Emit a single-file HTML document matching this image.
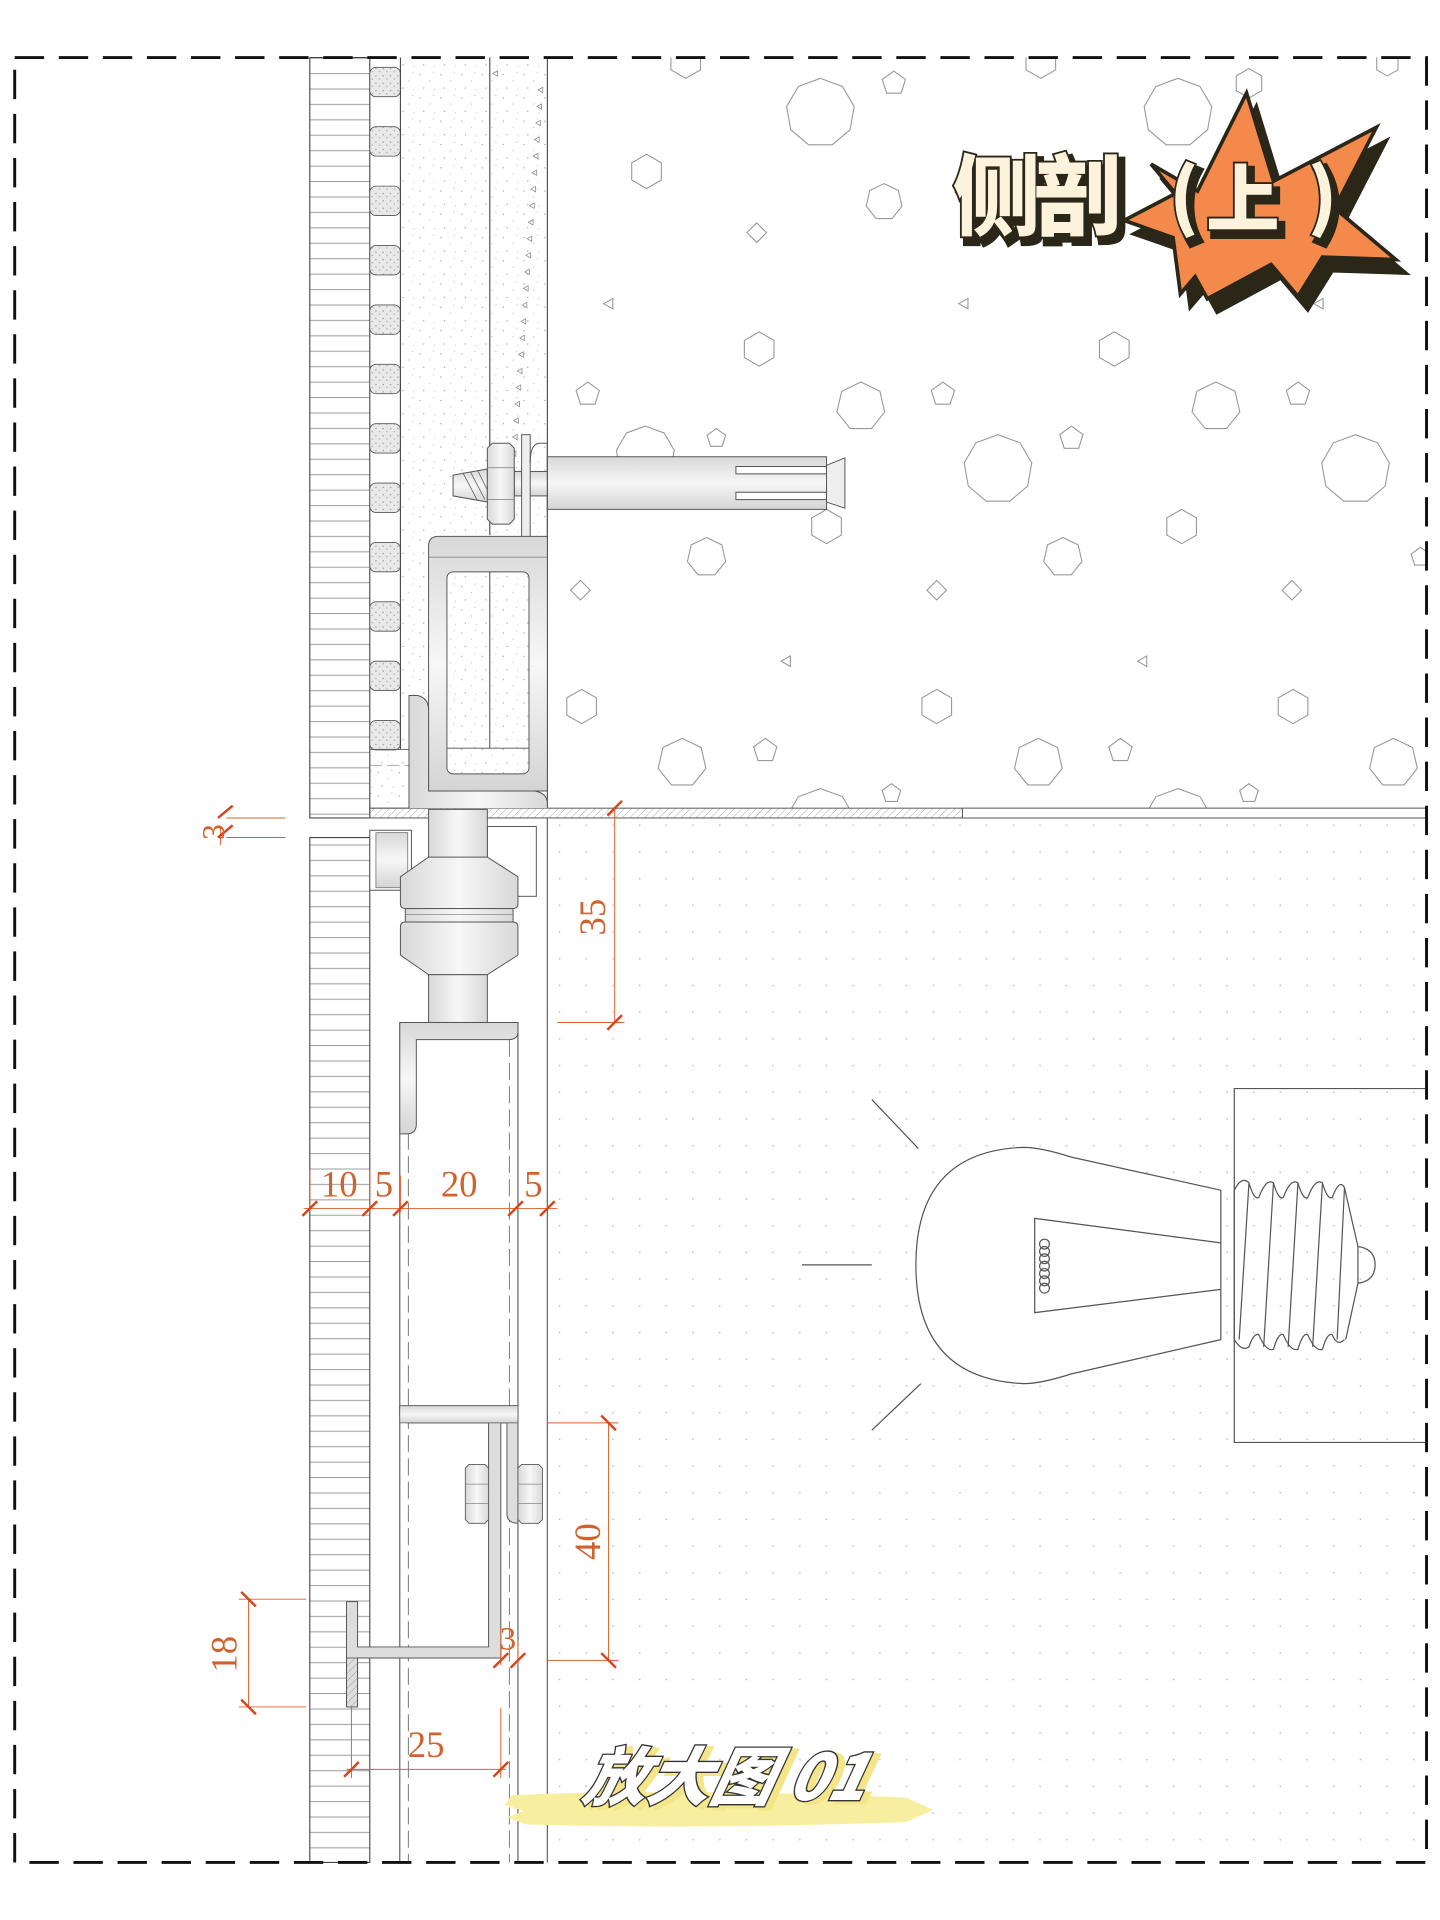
<!DOCTYPE html>
<html><head><meta charset="utf-8"><style>
html,body{margin:0;padding:0;background:#fff;}
svg{display:block;}
.t{font-family:"Liberation Serif",serif;fill:#d0622e;}
</style></head><body>
<svg id="s" width="1440" height="1920" viewBox="0 0 1176 1568" preserveAspectRatio="none" xmlns="http://www.w3.org/2000/svg">
<defs>
<pattern id="hl" width="10" height="12.6" patternUnits="userSpaceOnUse" y="47"><line x1="0" y1="0.5" x2="10" y2="0.5" stroke="#999" stroke-width="0.8"/></pattern>
<pattern id="dg" width="6" height="8" patternUnits="userSpaceOnUse" patternTransform="skewX(-45)"><line x1="0" y1="0" x2="0" y2="8" stroke="#777" stroke-width="0.7"/></pattern>
<pattern id="dots" width="21.8" height="21.8" patternUnits="userSpaceOnUse" x="455" y="672"><circle cx="2" cy="2" r="0.7" fill="#bbb"/></pattern>
<pattern id="spk" width="17" height="19" patternUnits="userSpaceOnUse"><circle cx="3" cy="4" r="0.6" fill="#aaa"/><circle cx="11" cy="9" r="0.5" fill="#bbb"/><circle cx="6" cy="15" r="0.6" fill="#aaa"/><circle cx="14" cy="2" r="0.5" fill="#bbb"/><circle cx="15" cy="16" r="0.4" fill="#aaa"/></pattern>
<pattern id="spk2" width="6" height="6" patternUnits="userSpaceOnUse"><rect width="6" height="6" fill="#e9e9e9"/><circle cx="1" cy="2" r="0.6" fill="#999"/><circle cx="4" cy="4.5" r="0.6" fill="#aaa"/></pattern>
<linearGradient id="mv" x1="0" y1="0" x2="1" y2="0"><stop offset="0" stop-color="#d8d8d8"/><stop offset="0.5" stop-color="#f7f7f7"/><stop offset="1" stop-color="#d8d8d8"/></linearGradient>
<linearGradient id="mh" x1="0" y1="0" x2="0" y2="1"><stop offset="0" stop-color="#d8d8d8"/><stop offset="0.5" stop-color="#f7f7f7"/><stop offset="1" stop-color="#d4d4d4"/></linearGradient>
<clipPath id="cc"><rect x="447" y="47" width="718" height="613"/></clipPath>
</defs>

<g id="polys" clip-path="url(#cc)" fill="none" stroke="#999" stroke-width="0.9"></g>

<rect x="253" y="47" width="49" height="621" fill="url(#hl)" stroke="#444" stroke-width="0.9"/>
<rect x="253" y="684" width="49" height="837" fill="url(#hl)" stroke="#444" stroke-width="0.9"/>
<g id="wavy"></g>
<line x1="327" y1="47" x2="327" y2="612" stroke="#444" stroke-width="0.9"/>
<rect x="327" y="47" width="73" height="565" fill="url(#spk)"/>
<rect x="400" y="47" width="47" height="390" fill="url(#spk)"/>
<line x1="400" y1="47" x2="400" y2="437" stroke="#444" stroke-width="0.9"/>
<line x1="447" y1="47" x2="447" y2="660" stroke="#444" stroke-width="0.9"/>
<g id="tris" fill="none" stroke="#888" stroke-width="0.6"></g>
<rect x="302" y="612" width="50" height="48" fill="url(#spk)" stroke="#555" stroke-width="0.7"/>
<line x1="302" y1="625" x2="350" y2="625" stroke="#888" stroke-width="0.6" stroke-dasharray="10 4"/>

<rect x="302" y="660" width="484" height="8" fill="url(#dg)" stroke="#555" stroke-width="0.8"/>
<line x1="786" y1="660" x2="1165" y2="660" stroke="#555" stroke-width="0.8"/>
<line x1="786" y1="668" x2="1165" y2="668" stroke="#555" stroke-width="0.8"/>

<rect x="448" y="669" width="716" height="851" fill="url(#dots)"/>
<line x1="447" y1="668" x2="447" y2="1521" stroke="#666" stroke-width="1"/>
<line x1="326.5" y1="835" x2="326.5" y2="1521" stroke="#555" stroke-width="0.9"/>
<line x1="423" y1="835" x2="423" y2="1521" stroke="#555" stroke-width="0.9"/>
<line x1="333.5" y1="925" x2="333.5" y2="1521" stroke="#777" stroke-width="0.8" stroke-dasharray="14 5"/>
<line x1="416" y1="849" x2="416" y2="1521" stroke="#777" stroke-width="0.8" stroke-dasharray="14 5"/>

<rect x="447" y="373" width="228" height="43" fill="url(#mh)" stroke="#555" stroke-width="0.8"/>
<path d="M601 381 H675 V387 H601 Z M601 402 H675 V408 H601 Z" fill="#fff" stroke="#555" stroke-width="0.8"/>
<path d="M675 380 L690 374 L690 415 L675 410 Z" fill="#eee" stroke="#555" stroke-width="0.8"/>
<rect x="420" y="385" width="27" height="20" fill="url(#mh)" stroke="#555" stroke-width="0.8"/>
<rect x="426" y="355" width="7" height="85" fill="#eee" stroke="#555" stroke-width="0.8"/>
<path d="M433 378 Q433 363 440 362 L447 362 L447 437" fill="none" stroke="#555" stroke-width="0.8"/>
<path d="M370 388 L398 383 L398 410 L370 405 Z" fill="url(#mh)" stroke="#555" stroke-width="0.8"/>
<path d="M378 386 L390 409 M384 385 L396 408 M390 384 L398 400" stroke="#666" stroke-width="0.7"/>
<path d="M402 362 H416 L420 366 V424 L416 428 H402 L398 424 V366 Z" fill="url(#mv)" stroke="#555" stroke-width="0.8"/>
<path d="M398 382 H420 M398 408 H420" stroke="#777" stroke-width="0.6"/>

<path d="M350 446 Q350 438 358 438 H447 V646 H350 Z" fill="url(#mh)" stroke="#555" stroke-width="0.8"/>
<rect x="365" y="467" width="67" height="165" rx="5" fill="#fff" stroke="#555" stroke-width="0.8"/>
<rect x="365" y="467" width="67" height="165" rx="5" fill="url(#spk)"/>
<line x1="400" y1="467" x2="400" y2="611" stroke="#444" stroke-width="0.8"/>
<line x1="365" y1="611" x2="432" y2="611" stroke="#555" stroke-width="0.7"/>
<line x1="350" y1="455" x2="447" y2="455" stroke="#777" stroke-width="0.6"/>
<path d="M334 660 V568 H341 Q350 570 350 580 V646 H437 Q447 648 447 656 V660" fill="url(#mv)" stroke="#555" stroke-width="0.8"/>

<path d="M302 678 H336 V727 H302 Z" fill="#fff" stroke="#555" stroke-width="0.8"/>
<rect x="307" y="680" width="26" height="45" fill="url(#mh)" stroke="#666" stroke-width="0.6"/>
<rect x="398" y="675" width="40" height="57" fill="#fff" stroke="#555" stroke-width="0.8"/>
<rect x="350" y="661" width="48" height="40" fill="url(#mv)" stroke="#555" stroke-width="0.8"/>
<path d="M350 700 H398 L423 716 V738 Q423 742 419 742 H331 Q327 742 327 738 V716 Z" fill="url(#mv)" stroke="#555" stroke-width="0.8"/>
<rect x="331" y="742" width="88" height="11" fill="url(#mv)" stroke="#555" stroke-width="0.8"/>
<line x1="331" y1="747" x2="419" y2="747" stroke="#777" stroke-width="0.6"/>
<path d="M331 753 H419 Q423 753 423 757 V780 L398 796 H350 L327 780 V757 Q327 753 331 753 Z" fill="url(#mv)" stroke="#555" stroke-width="0.8"/>
<rect x="350" y="796" width="48" height="39" fill="url(#mv)" stroke="#555" stroke-width="0.8"/>
<path d="M326.5 835 H423 V843 Q423 849 415 849 H340 V918 Q340 926 332 926 H326.5 Z" fill="url(#mh)" stroke="#555" stroke-width="0.8"/>
<path d="M326.5 1148 H423 V1244 Q414 1244 414 1236 V1162 H409 V1354 H292 V1394 H283 V1308 H292 V1345 H399 V1162 H334 Q326.5 1162 326.5 1155 Z" fill="#ddd" stroke="#555" stroke-width="0.8"/>
<path d="M326.5 1148 H423 V1162 H326.5 Z" fill="url(#mh)" stroke="#555" stroke-width="0.6"/>
<rect x="283" y="1354" width="9" height="40" fill="url(#dg)" stroke="#555" stroke-width="0.7"/>
<g fill="url(#mv)" stroke="#555" stroke-width="0.7">
<path d="M383 1196 H396 L399 1199 V1241 L396 1244 H383 L380 1241 V1199 Z"/>
<path d="M426 1196 H440 L443 1199 V1241 L440 1244 H426 L423 1241 V1199 Z"/>
</g>
<path d="M380 1212 H399 M380 1228 H399 M423 1212 H443 M423 1228 H443" stroke="#888" stroke-width="0.6"/>

<g fill="none" stroke="#555" stroke-width="1">
<path d="M1165 889 H1008 V1178 H1165"/>
<path d="M875 945 Q850 937 836 937 Q748 940 748 1033 Q748 1126 836 1130 Q850 1130 875 1122 L997 1094 V972 Z" fill="#fff"/>
<path d="M997 1015 L845 995 V1072 L997 1053"/>
<g id="coil"></g>
<path d="M1008 972 Q1014 960 1020 966 Q1024 980 1028 978 Q1034 962 1040 966 Q1044 980 1048 978 Q1054 962 1060 966 Q1064 980 1068 978 Q1074 962 1080 966 Q1084 980 1088 978 Q1094 962 1098 970"/>
<path d="M1008 1094 Q1014 1104 1020 1100 Q1024 1088 1028 1090 Q1034 1104 1040 1102 Q1044 1088 1048 1090 Q1054 1104 1060 1102 Q1064 1088 1068 1090 Q1074 1104 1080 1102 Q1084 1088 1088 1090 Q1092 1100 1098 1094"/>
<path d="M1008 972 L1008 1094 M1020 966 L1012 1094 M1040 966 L1032 1100 M1060 966 L1052 1100 M1080 966 L1072 1100 M1098 970 L1092 1094"/>
<path d="M1098 970 L1109 1018 V1048 L1099 1094"/>
<path d="M1109 1018 Q1123 1020 1123 1033 Q1123 1046 1109 1048"/>
<path d="M712 898 L750 938 M712 1168 L752 1130 M655 1033 H712"/>
</g>

<g stroke="#d9602c" stroke-width="0.8" fill="none">
<path d="M185 668 H233 M185 684 H233 M180 676 V690"/>
<path d="M455 835 H510 M502 660 V835"/>
<path d="M248 987 H455 M253 955 V990 M302 955 V990 M327 960 V990"/>
<path d="M447 1162 H505 M447 1356 H505 M497 1162 V1356 M423 1340 V1360 M409 1330 V1360"/>
<path d="M195 1306 H250 M195 1394 H250 M203 1306 V1394"/>
<path d="M283 1445 H413 M287 1394 V1452 M409 1395 V1452"/>
</g>
<g stroke="#d9441a" stroke-width="2">
<path d="M178 668 L190 658 M178 684 L190 674"/>
<path d="M496 666 L508 654 M496 841 L508 829"/>
<path d="M247 993 L259 981 M296 993 L308 981 M321 993 L333 981 M415 993 L427 981 M441 993 L453 981"/>
<path d="M491 1156 L503 1168 M491 1350 L503 1362 M403 1362 L415 1350 M417 1362 L429 1350"/>
<path d="M197 1300 L209 1312 M197 1388 L209 1400"/>
<path d="M281 1451 L293 1439 M403 1451 L415 1439"/>
</g>
<g class="t" font-size="30">
<text x="262" y="977" textLength="30">10</text><text x="306" y="977">5</text><text x="360" y="977">20</text><text x="428" y="977">5</text>
<text x="333" y="1435">25</text><text x="408" y="1347" font-size="27">3</text>
<text transform="translate(183,686) rotate(-90)" font-size="26">3</text>
<text transform="translate(494,764) rotate(-90)">35</text>
<text transform="translate(490,1274) rotate(-90)">40</text>
<text transform="translate(193,1366) rotate(-90)">18</text>
</g>

<g stroke="#2a2618" stroke-width="3" stroke-linejoin="miter">
<path d="M1022 82 L1044 154 L1128 110 L1094 176 L1144 218 L1084 216 L1064 248 L1042 222 L990 250 L980 232 L968 246 L962 200 L922 186 L964 164 L944 140 L982 162 Z" fill="#2a2618" transform="translate(4,5)"/>
<path d="M1018 76 L1040 148 L1124 104 L1090 170 L1140 212 L1080 210 L1060 242 L1038 216 L986 244 L976 226 L964 240 L958 194 L918 180 L960 158 L940 134 L978 156 Z" fill="#f4894c"/>
</g>
<g font-family="'Noto Sans CJK SC','WenQuanYi Zen Hei',sans-serif" font-weight="900" font-size="72">
<text x="778" y="186" fill="#2a2618" stroke="#2a2618" stroke-width="6" transform="translate(4,5)" letter-spacing="-6">侧剖</text>
<text x="778" y="186" fill="#fdf3dc" stroke="#2a2618" stroke-width="3" paint-order="stroke" letter-spacing="-6">侧剖</text>
<g font-size="60">
<text x="955" y="182" fill="#2a2618" stroke="#2a2618" stroke-width="6" transform="translate(4,5)">(</text>
<text x="955" y="182" fill="#fdf3dc" stroke="#2a2618" stroke-width="3" paint-order="stroke">(</text>
<text x="985" y="184" fill="#2a2618" stroke="#2a2618" stroke-width="6" transform="translate(4,5)">上</text>
<text x="985" y="184" fill="#fdf3dc" stroke="#2a2618" stroke-width="3" paint-order="stroke">上</text>
<text x="1068" y="182" fill="#2a2618" stroke="#2a2618" stroke-width="6" transform="translate(4,5)">)</text>
<text x="1068" y="182" fill="#fdf3dc" stroke="#2a2618" stroke-width="3" paint-order="stroke">)</text>
</g>
</g>

<path d="M418 1466 Q560 1460 740 1468 L762 1478 L740 1488 Q580 1494 430 1490 L414 1484 L428 1479 L412 1474 Z" fill="#f8eea0"/>
<g font-family="'Noto Sans CJK SC','WenQuanYi Zen Hei',sans-serif" font-weight="900" font-size="52" font-style="italic">
<text x="478" y="1470" fill="#f4e48a" stroke="#f4e48a" stroke-width="3" transform="translate(5,2) skewX(-12)" style="transform-origin:600px 1450px">放大图 01</text>
<text x="478" y="1470" fill="#fff" stroke="#333" stroke-width="2.2" paint-order="stroke" transform="skewX(-12)" style="transform-origin:600px 1450px">放大图 01</text>
</g>

<rect x="12" y="47" width="1153" height="1474" fill="none" stroke="#111" stroke-width="2.4" stroke-dasharray="24 12"/>
</svg>
<script>
var NS="http://www.w3.org/2000/svg";
function poly(cx,cy,r,n,rot){var p=[];for(var i=0;i<n;i++){var a=(rot||0)+i*2*Math.PI/n;p.push((cx+r*Math.cos(a)).toFixed(1)+","+(cy+r*Math.sin(a)).toFixed(1));}var e=document.createElementNS(NS,"polygon");e.setAttribute("points",p.join(" "));return e;}
var g=document.getElementById("polys");
var L=[[670,92,28,9],[730,68,10,5],[962,92,28,9],[528,140,14,6],[722,165,15,7],[618,190,8,4],[1020,68,12,6],[1133,52,10,6],[498,248,5,3],[788,248,5,3],[1078,248,5,3],[620,285,14,6],[910,285,14,6],[480,322,10,5],[703,332,20,7],[770,322,10,5],[875,358,10,5],[993,332,20,7],[1060,322,10,5],[527,372,24,9],[585,358,8,5],[815,383,28,9],[1107,383,28,9],[675,430,14,6],[965,430,14,6],[577,455,16,7],[868,455,16,7],[1160,455,8,5],[474,482,8,4],[765,482,8,4],[1055,482,8,4],[643,540,5,3],[934,540,5,3],[475,577,14,6],[765,577,14,6],[1056,577,14,6],[557,623,20,7],[625,613,10,5],[848,623,20,7],[915,613,10,5],[1138,623,20,7],[728,648,8,5],[1020,648,8,5],[670,672,28,9],[962,672,28,9],[560,50,14,6],[850,50,14,6]];
L.forEach(function(a){var rot=a[3]==3?Math.PI:(a[3]==4?0:-Math.PI/2);g.appendChild(poly(a[0],a[1],a[2],a[3],rot));});
var w=document.getElementById("wavy");
for(var y=55;y<600;y+=48.5){var r=document.createElementNS(NS,"rect");r.setAttribute("x",302);r.setAttribute("y",y);r.setAttribute("width",25);r.setAttribute("height",24);r.setAttribute("rx",5);r.setAttribute("fill","url(#spk2)");r.setAttribute("stroke","#555");r.setAttribute("stroke-width","0.7");w.appendChild(r);}
var t=document.getElementById("tris");
for(var i=0;i<28;i++){var x=405+((i*37)%38),yy=60+i*13.5;t.appendChild(poly(x,yy,2.5,3,Math.PI));}
var c=document.getElementById("coil");
for(var k=0;k<7;k++){var e=document.createElementNS(NS,"circle");e.setAttribute("cx",853);e.setAttribute("cy",1016+k*6);e.setAttribute("r",4);c.appendChild(e);}
</script>
</body></html>
